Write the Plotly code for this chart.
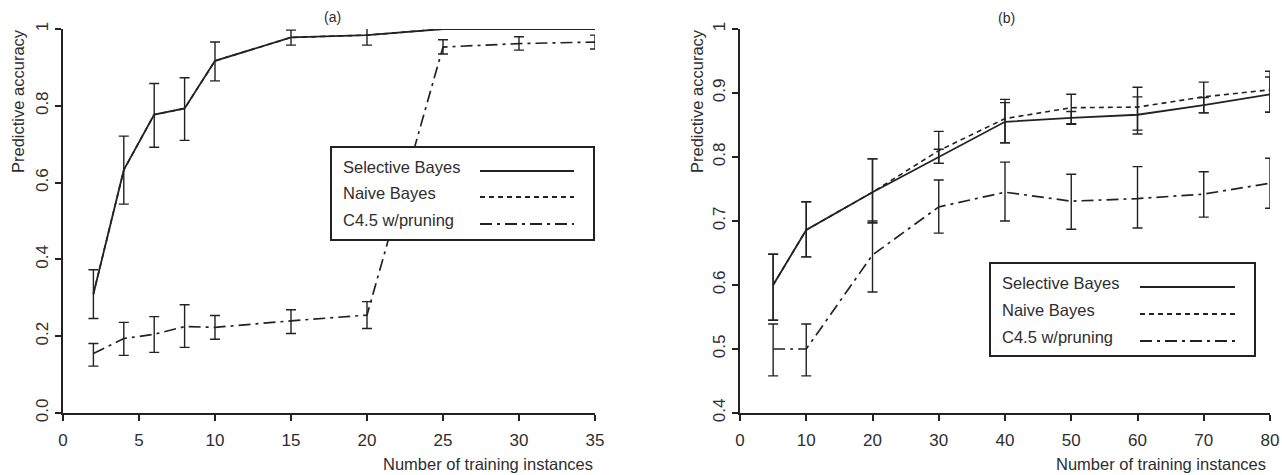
import plotly.graph_objects as go

# ---------------- data ----------------
series_names = ["Selective Bayes", "Naive Bayes", "C4.5 w/pruning"]

# panel (a)
xa = [2, 4, 6, 8, 10, 15, 20, 25, 30, 35]
a_sel = [0.31, 0.633, 0.777, 0.793, 0.917, 0.978, 0.984, 1.0, 1.0, 1.0]
a_sel_up = [0.063, 0.088, 0.081, 0.080, 0.049, 0.019, 0.021, 0, 0, 0]
a_sel_dn = [0.064, 0.089, 0.085, 0.083, 0.052, 0.020, 0.026, 0, 0, 0]
a_nb = [0.31, 0.633, 0.777, 0.793, 0.917, 0.978, 0.984, 1.0, 1.0, 1.0]
a_c45 = [0.155, 0.194, 0.205, 0.225, 0.223, 0.240, 0.255, 0.953, 0.962, 0.966]
a_c45_up = [0.026, 0.042, 0.046, 0.057, 0.031, 0.029, 0.035, 0.019, 0.018, 0.018]
a_c45_dn = [0.033, 0.044, 0.047, 0.054, 0.031, 0.033, 0.035, 0.018, 0.017, 0.018]

# panel (b)
xb = [5, 10, 20, 30, 40, 50, 60, 70, 80]
b_sel = [0.600, 0.686, 0.745, 0.800, 0.855, 0.861, 0.866, 0.881, 0.898]
b_sel_up = [0.048, 0.044, 0.052, 0.012, 0.030, 0.010, 0.028, 0.012, 0.027]
b_sel_dn = [0.055, 0.042, 0.048, 0.010, 0.033, 0.010, 0.030, 0.012, 0.028]
b_nb = [0.600, 0.686, 0.745, 0.810, 0.860, 0.877, 0.878, 0.894, 0.905]
b_nb_up = [0.048, 0.044, 0.052, 0.030, 0.030, 0.021, 0.031, 0.023, 0.029]
b_nb_dn = [0.055, 0.042, 0.048, 0.020, 0.038, 0.025, 0.036, 0.025, 0.035]
b_c45 = [0.500, 0.500, 0.647, 0.722, 0.745, 0.731, 0.735, 0.742, 0.759]
b_c45_up = [0.039, 0.039, 0.053, 0.042, 0.047, 0.042, 0.050, 0.035, 0.039]
b_c45_dn = [0.042, 0.042, 0.058, 0.041, 0.045, 0.044, 0.046, 0.036, 0.039]

a_yticks = [0.0, 0.2, 0.4, 0.6, 0.8, 1.0]
a_yticklabels = ["0.0", "0.2", "0.4", "0.6", "0.8", "1"]
b_yticks = [0.4, 0.5, 0.6, 0.7, 0.8, 0.9, 1.0]
b_yticklabels = ["0.4", "0.5", "0.6", "0.7", "0.8", "0.9", "1"]
a_xticks = [0, 5, 10, 15, 20, 25, 30, 35]
b_xticks = [0, 10, 20, 30, 40, 50, 60, 70, 80]

# ---------------- styling ----------------
W, H = 1282, 475
INK = "#222222"
TXT = "#2e2e2e"
FONT = "Liberation Sans, Arial, Helvetica, sans-serif"
dashes = ["solid", "5px,4px", "12px,5px,3px,5px"]


def px(x):
    return x / W


def py(y):
    return 1 - y / H


def err(up, dn):
    return dict(type="data", symmetric=False, array=up, arrayminus=dn,
                color=INK, thickness=1.4, width=5)


fig = go.Figure()

# panel (a) traces
fig.add_trace(go.Scatter(x=xa, y=a_nb, mode="lines", name=series_names[1],
                         line=dict(color=INK, width=1.6, dash=dashes[1]),
                         xaxis="x", yaxis="y", showlegend=False))
fig.add_trace(go.Scatter(x=xa, y=a_sel, mode="lines", name=series_names[0],
                         line=dict(color=INK, width=1.8, dash=dashes[0]),
                         error_y=err(a_sel_up, a_sel_dn),
                         xaxis="x", yaxis="y", showlegend=False))
fig.add_trace(go.Scatter(x=xa, y=a_c45, mode="lines", name=series_names[2],
                         line=dict(color=INK, width=1.7, dash=dashes[2]),
                         error_y=err(a_c45_up, a_c45_dn),
                         xaxis="x", yaxis="y", showlegend=False))

# panel (b) traces
fig.add_trace(go.Scatter(x=xb, y=b_nb, mode="lines", name=series_names[1],
                         line=dict(color=INK, width=1.6, dash=dashes[1]),
                         error_y=err(b_nb_up, b_nb_dn),
                         xaxis="x2", yaxis="y2", showlegend=False))
fig.add_trace(go.Scatter(x=xb, y=b_sel, mode="lines", name=series_names[0],
                         line=dict(color=INK, width=1.8, dash=dashes[0]),
                         error_y=err(b_sel_up, b_sel_dn),
                         xaxis="x2", yaxis="y2", showlegend=False))
fig.add_trace(go.Scatter(x=xb, y=b_c45, mode="lines", name=series_names[2],
                         line=dict(color=INK, width=1.7, dash=dashes[2]),
                         error_y=err(b_c45_up, b_c45_dn),
                         xaxis="x2", yaxis="y2", showlegend=False))

ydom = [py(413), py(29)]
common_axis = dict(showgrid=False, zeroline=False, showline=True, linecolor=INK,
                   linewidth=2, ticks="outside", ticklen=6, tickwidth=2,
                   automargin=False,
                   tickcolor=INK, tickfont=dict(family=FONT, size=17, color=TXT))

fig.update_layout(
    width=W, height=H, autosize=False,
    margin=dict(l=0, r=0, t=0, b=0, pad=0),
    paper_bgcolor="white", plot_bgcolor="white",
    font=dict(family=FONT, color=TXT),
    xaxis=dict(domain=[px(63), px(595)], range=[0, 35], tickvals=a_xticks,
               anchor="y", ticklabelstandoff=5, **common_axis),
    yaxis=dict(domain=ydom, range=[0, 1], tickvals=a_yticks, ticktext=a_yticklabels,
               tickangle=-90, anchor="x", ticklabelstandoff=0, **common_axis),
    xaxis2=dict(domain=[px(740), px(1270)], range=[0, 80], tickvals=b_xticks,
                anchor="y2", ticklabelstandoff=5, **common_axis),
    yaxis2=dict(domain=ydom, range=[0.4, 1], tickvals=b_yticks, ticktext=b_yticklabels,
                tickangle=-90, anchor="x2", ticklabelstandoff=0, **common_axis),
)

annotations = []
shapes = []


def text(x, y, s, size=16, angle=0, xanchor="center"):
    annotations.append(dict(x=px(x), y=py(y), xref="paper", yref="paper", text=s,
                            showarrow=False, textangle=angle, xanchor=xanchor,
                            yanchor="middle", font=dict(family=FONT, size=size, color=TXT)))


# titles and axis labels
text(332, 17, "(a)", size=14)
text(1006, 18, "(b)", size=14)
text(18, 101, "Predictive accuracy", angle=-90, size=16.5)
text(697, 101, "Predictive accuracy", angle=-90, size=16.5)
text(595, 464, "Number of training instances", xanchor="right", size=16.5)
text(1268, 464, "Number of training instances", xanchor="right", size=16.5)


# custom legends (text on left, line sample on right)
def legend(x0, y0, x1, y1, tx, rows, lx0, lx1):
    shapes.append(dict(type="rect", xref="paper", yref="paper",
                       x0=px(x0), y0=py(y0), x1=px(x1), y1=py(y1),
                       line=dict(color=INK, width=2), fillcolor="white", layer="above"))
    for name, dash, ry in zip(series_names, dashes, rows):
        annotations.append(dict(x=px(tx), y=py(ry), xref="paper", yref="paper",
                                text=name, showarrow=False, xanchor="left", yanchor="middle",
                                font=dict(family=FONT, size=16.5, color=TXT)))
        shapes.append(dict(type="line", xref="paper", yref="paper",
                           x0=px(lx0), x1=px(lx1), y0=py(ry + 4), y1=py(ry + 4),
                           line=dict(color=INK, width=1.8, dash=dash), layer="above"))


legend(331, 147, 594, 240, 341, [167, 193, 220], 480, 574)
legend(990, 263, 1255, 356, 1000, [283, 310, 337], 1140, 1235)

fig.update_layout(annotations=annotations, shapes=shapes)

fig.write_html(
    "out.html",
    config={"displayModeBar": False},
    post_script="document.body.style.margin='0';document.body.style.overflow='hidden';",
)
